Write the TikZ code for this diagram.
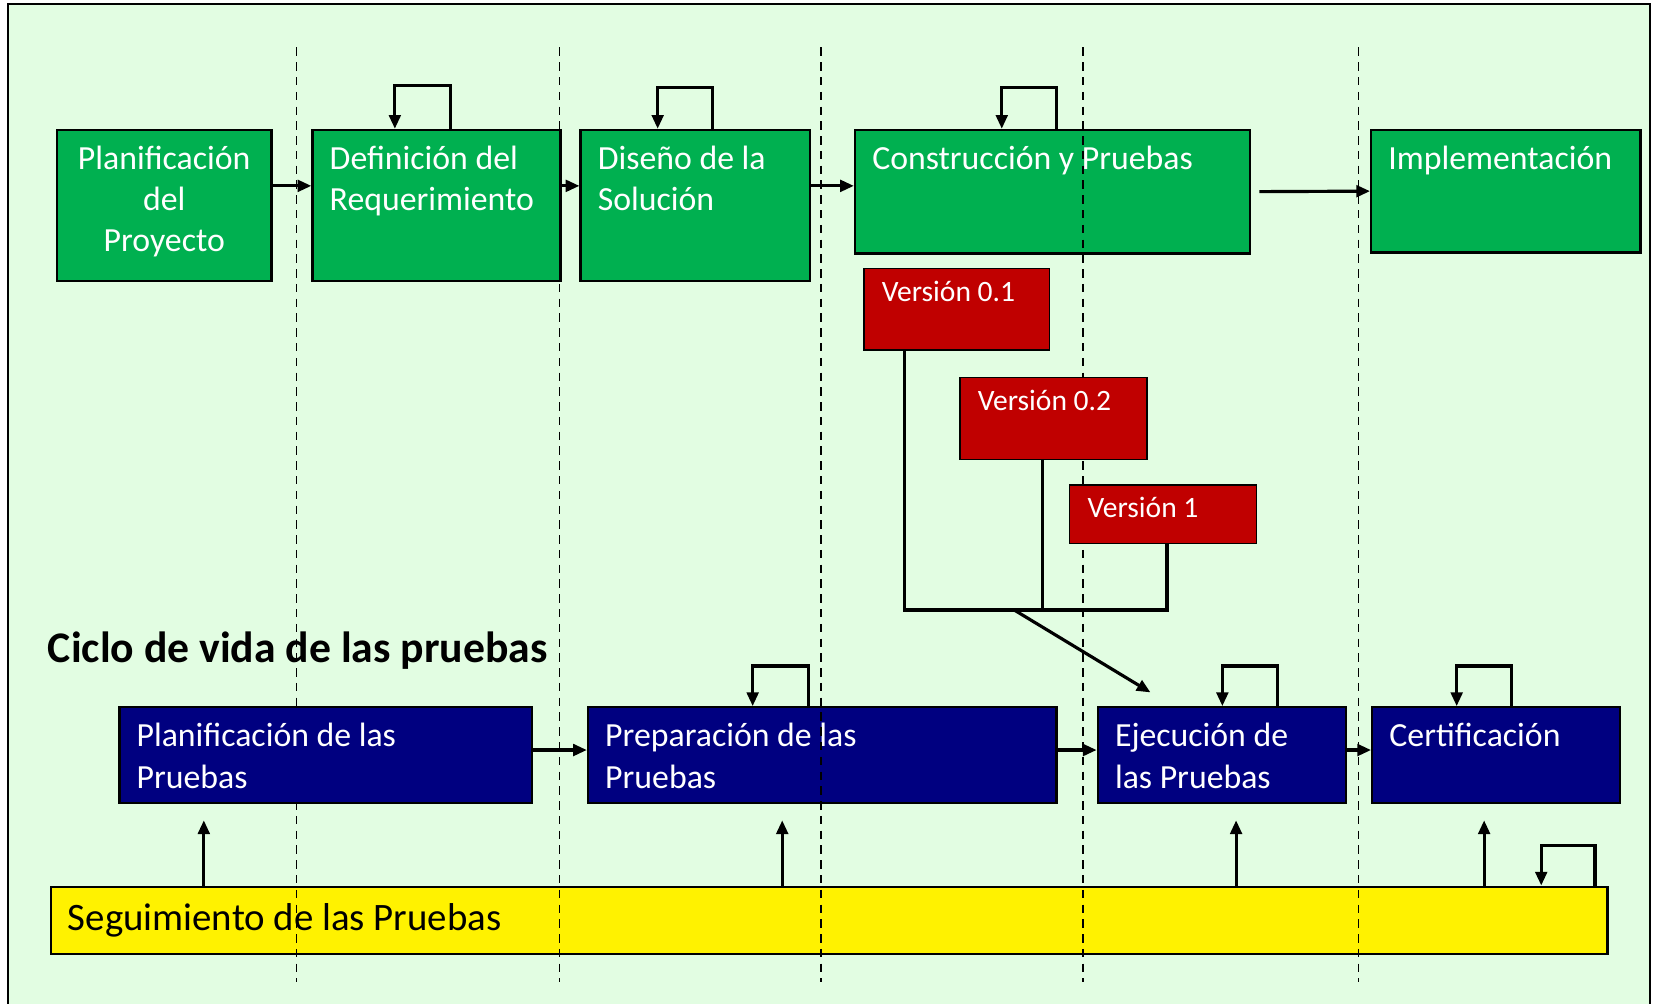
\documentclass[tikz,border=0pt]{standalone}
\usepackage{fontspec}
\setmainfont{Carlito}
\usetikzlibrary{arrows.meta,calc}

\definecolor{fondo}{RGB}{226,253,226}
\definecolor{verde}{RGB}{0,176,80}
\definecolor{rojo}{RGB}{192,0,0}
\definecolor{azul}{RGB}{0,0,128}

\tikzset{
  caja/.style={draw=black, line width=1.1pt, inner sep=0pt, anchor=north west},
  fase/.style={caja, fill=verde},
  version/.style={caja, fill=rojo, line width=.6pt},
  prueba/.style={caja, fill=azul},
  txt/.style={inner sep=0pt, text=white, align=left, font=\fontsize{16}{19.5}\selectfont},
  txtv/.style={txt, font=\fontsize{14}{16}\selectfont},
  arr/.style={line width=1.5pt, -{Triangle[length=6.5pt,width=5.5pt]}},
  linea/.style={line width=1.5pt},
  guia/.style={line width=.8pt, dash pattern=on 4pt off 3pt}
}

\begin{document}
\begin{tikzpicture}[x=0.5pt,y=-0.5pt]
\useasboundingbox (0,0) rectangle (1568,951.2);
\fill[white] (0,0) rectangle (1568,951.2);
\fill[fondo] (8,4) rectangle (1563,951.2);
\draw[line width=1pt] (8,951.2)--(8,4)--(1563,4)--(1563,951.2);

% cajas bajo las guias
\node[fase, minimum width=187pt, minimum height=58.5pt,
  label={[txt, anchor=north west, xshift=8.5pt, yshift=-8pt]north west:Construcción y Pruebas}]
  (cons) at (809,122) {};
\node[prueba, minimum width=222pt, minimum height=45.5pt,
  label={[txt, anchor=north west, xshift=8.5pt, yshift=-8pt]north west:{Preparación de las\\Pruebas}}]
  (pp) at (556,669) {};
\node[caja, fill=yellow, minimum width=737.5pt, minimum height=32pt,
  label={[txt, text=black, anchor=west, xshift=8.5pt, font=\fontsize{18.4}{22}\selectfont]west:Seguimiento de las Pruebas}]
  (seg) at (47,839) {};
\node[anchor=west, inner sep=0pt, font=\fontsize{20.7}{24}\selectfont\bfseries] (titulo) at (45,616) {Ciclo de vida de las pruebas};

% guias
\foreach \x in {281,530,778,1026,1287}
  \draw[guia] (\x,45) -- (\x,930);

% ciclo de desarrollo
\node[fase, minimum width=101.5pt, minimum height=71.5pt,
  label={[txt, align=center, anchor=north, yshift=-8pt]north:{Planificación\\del\\Proyecto}}]
  (plan) at (53,122) {};
\node[fase, minimum width=117.5pt, minimum height=71.5pt,
  label={[txt, anchor=north west, xshift=8.5pt, yshift=-8pt]north west:{Definición del\\Requerimiento}}]
  (def) at (295,122) {};
\node[fase, minimum width=108.5pt, minimum height=71.5pt,
  label={[txt, anchor=north west, xshift=8.5pt, yshift=-8pt]north west:{Diseño de la\\Solución}}]
  (dis) at (549,122) {};
\node[fase, minimum width=127.5pt, minimum height=58pt,
  label={[txt, anchor=north west, xshift=8.5pt, yshift=-8pt]north west:Implementación}]
  (impl) at (1298,122) {};

% versiones
\node[version, minimum width=88pt, minimum height=38.5pt,
  label={[txtv, anchor=north west, xshift=8.5pt, yshift=-6pt]north west:Versión 0.1}]
  (v01) at (818,254) {};
\node[version, minimum width=88.5pt, minimum height=39pt,
  label={[txtv, anchor=north west, xshift=8.5pt, yshift=-6pt]north west:Versión 0.2}]
  (v02) at (909,357) {};
\node[version, minimum width=88.5pt, minimum height=27.5pt,
  label={[txtv, anchor=north west, xshift=8.5pt, yshift=-6pt]north west:Versión 1}]
  (v1) at (1013,459) {};

% ciclo de pruebas
\node[prueba, minimum width=195.5pt, minimum height=45.5pt,
  label={[txt, anchor=north west, xshift=8.5pt, yshift=-8pt]north west:{Planificación de las\\Pruebas}}]
  (pb) at (112,669) {};
\node[prueba, minimum width=117.5pt, minimum height=45.5pt,
  label={[txt, anchor=north west, xshift=8.5pt, yshift=-8pt]north west:{Ejecución de\\las Pruebas}}]
  (pe) at (1039,669) {};
\node[prueba, minimum width=117.5pt, minimum height=45.5pt,
  label={[txt, anchor=north west, xshift=8.5pt, yshift=-8pt]north west:Certificación}]
  (pc) at (1299,669) {};

% flechas de fase
\draw[arr] ([yshift=9.25pt]plan.east) -- ([yshift=9.25pt]def.west);
\draw[arr] ([yshift=9.25pt]def.east) -- ([yshift=9.25pt]dis.west);
\draw[arr] ([yshift=9.25pt]dis.east) -- ([yshift=9.25pt]dis.east -| cons.west);
\draw[arr, shorten <=4pt] (cons.east) -- (impl.west);
\draw[arr] ([yshift=2.5pt]pb.east) -- ([yshift=2.5pt]pp.west);
\draw[arr] ([yshift=2.5pt]pp.east) -- ([yshift=2.5pt]pe.west);
\draw[arr] ([yshift=2.5pt]pe.east) -- ([yshift=2.5pt]pc.west);

% iteraciones
\draw[arr] ($(def.north)+(13.5,0)$) -- ++(0,-41) -| ($(def.north)+(-39.5,0)$);
\draw[arr] ($(dis.north)+(16.5,0)$) -- ++(0,-39) -| ($(dis.north)+(-35.5,0)$);
\draw[arr] ($(cons.north)+(4,0)$) -- ++(0,-39) -| ($(cons.north)+(-48,0)$);
\draw[arr] ($(pp.north)+(-13,0)$) -- ++(0,-38) -| ($(pp.north)+(-66,0)$);
\draw[arr] ($(pe.north)+(52.5,0)$) -- ++(0,-38) -| ($(pe.north)+(0.5,0)$);
\draw[arr] ($(pc.north)+(14.5,0)$) -- ++(0,-38) -| ($(pc.north)+(-37.5,0)$);
\draw[arr] ($(seg.north east)+(-13,0)$) -- ++(0,-38) -| ($(seg.north east)+(-64,0)$);

% versiones hacia ejecucion
\coordinate (c1) at ([xshift=-25pt]v01.south);
\coordinate (c2) at ([xshift=-5.25pt]v02.south);
\coordinate (c3) at ([xshift=1.75pt]v1.south);
\coordinate (union) at (961,578);
\draw[linea] (c1) |- (c3 |- union) -- (c3);
\draw[linea] (c2) -- (c2 |- union);
\draw[arr] (union) -- ($(pe.north west)+(51,-13)$);

% seguimiento
\coordinate (s1) at ([xshift=-57.75pt]pb.south);
\coordinate (s2) at ([xshift=-19pt]pp.south);
\coordinate (s3) at ([xshift=6.75pt]pe.south);
\coordinate (s4) at ([xshift=-5.75pt]pc.south);
\foreach \s in {s1,s2,s3,s4}
  \draw[arr, shorten >=7.5pt] (\s |- seg.north) -- (\s);
\end{tikzpicture}
\end{document}
